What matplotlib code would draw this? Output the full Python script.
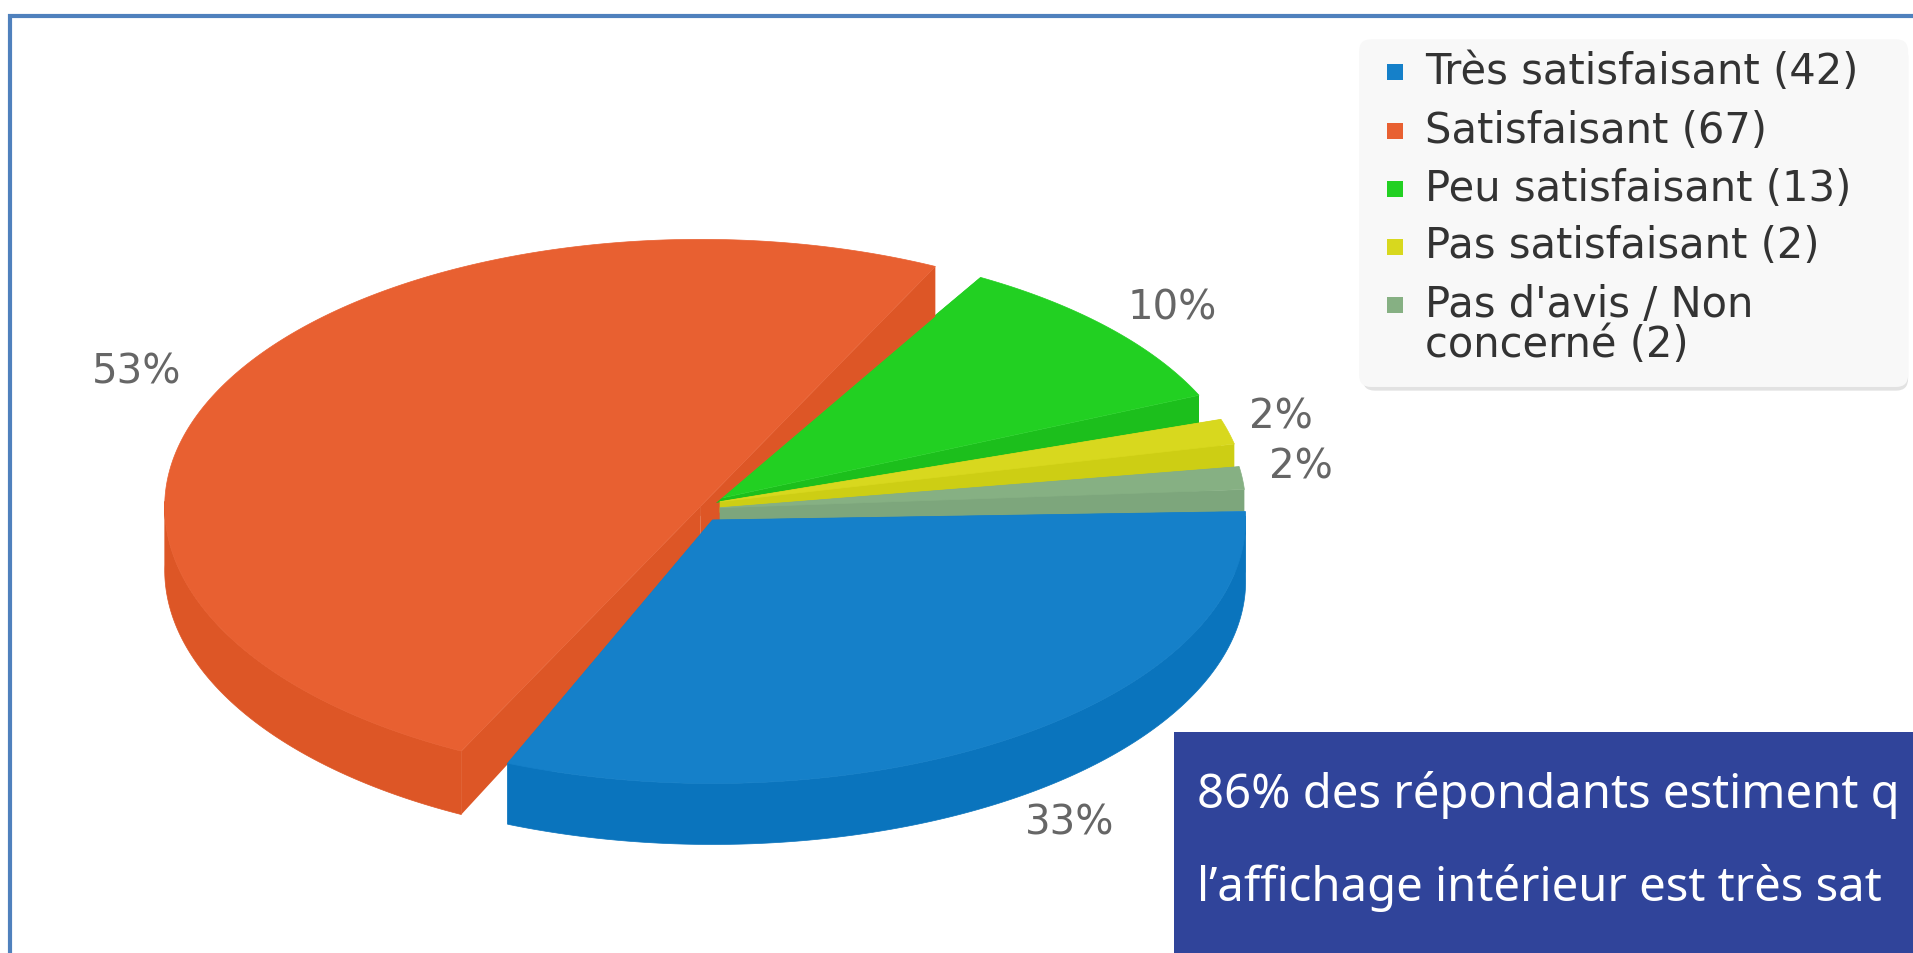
import numpy as np
import matplotlib
matplotlib.use("Agg")
import matplotlib.pyplot as plt
from matplotlib.patches import Polygon, Rectangle, FancyBboxPatch

categories = ["Très satisfaisant", "Satisfaisant", "Peu satisfaisant", "Pas satisfaisant", "Pas d'avis / Non\nconcerné"]
values = [42, 67, 13, 2, 2]
callout_lines = ["86% des répondants estiment q", "l’affichage intérieur est très sat"]

top_colors = ["#1580C9", "#E86031", "#22D022", "#D8D81E", "#86B083"]
side_colors = ["#0A74BD", "#DD5626", "#1CBF1C", "#CDCE14", "#7DA67C"]

S = 1913 / 1568  # layout below is measured on the 1568 px wide view
W, H = 1913, 954
fig = plt.figure(figsize=(W / 100, H / 100), dpi=100, facecolor="white")
ax = fig.add_axes([0, 0, 1, 1])
ax.set_xlim(0, W)
ax.set_ylim(H, 0)
ax.axis("off")

# Frame of the slide
ax.add_patch(Rectangle((10, 17), W + 50, H + 50, fc="white", ec="#4F81BD", lw=3, zorder=0))

# Pie: angles come from the values, then go through the chart's 3D projection
total = sum(values)
true_edges = np.cumsum([0] + values) / total * 360.0
proj_in = [0, 120, 311.4, 348.6, 354.3, 360]
proj_out = [-1.8, 114, 298, 340, 350, 358.2]
# slices pulled apart on screen: trim of each slice's start and end, in degrees
trim = [(0, -1.4), (2.5, -2), (2, -3.9), (2, -2.5), (1, -2.2)]


def project(a):
    return np.interp(a, proj_in, proj_out)


geom = [  # centre x, centre y, rx, ry back, ry front, depth
    (584, 427, 437, 220, 216, 50),
    (574, 416, 439, 219, 224, 52),
    (587, 410, 433, 210, 215, 25),
    (590, 412, 432, 218, 218, 24),
    (590, 417, 431, 215, 215, 18),
]
# depth of the cut faces: (rim, apex) for the start edge, then for the end edge
cut_depth = [((50, 50), (50, 50)), ((52, 40), (41, 8)), ((25, 3), (25, 3)), ((24, 9), (24, 9)), ((18, 14), (18, 14))]


def rim(g, t):
    cx, cy, rx, ryb, ryf, _ = g
    t = np.radians(t)
    s = np.sin(t)
    return np.column_stack([cx + rx * np.cos(t), cy + np.where(s < 0, ryb, ryf) * s]) * S


def draw_slice(i, z):
    g = geom[i]
    a0 = project(true_edges[i]) + trim[i][0]
    a1 = project(true_edges[i + 1]) + trim[i][1]
    ts = np.linspace(a0, a1, 240)
    edge = rim(g, ts)
    apex = np.array([g[0], g[1]]) * S
    for p, (d_rim, d_apex) in zip((edge[0], edge[-1]), cut_depth[i]):
        ax.add_patch(Polygon([apex, p, p + [0, d_rim * S], apex + [0, d_apex * S]],
                             fc=side_colors[i], ec="none", zorder=z))
    # the outer wall shows only on the front half of the rim
    front = np.sin(np.radians(ts)) > -0.02
    if front.any():
        wall = edge[front]
        side = np.vstack([wall, (wall + [0, g[5] * S])[::-1]])
        ax.add_patch(Polygon(side, fc=side_colors[i], ec=side_colors[i], lw=0.5, zorder=z))
    ax.add_patch(Polygon(np.vstack([apex, edge]), fc=top_colors[i], ec=top_colors[i], lw=0.5, zorder=z + 0.5))


# Small inner face of the pulled-out slice, seen behind the apex of the others
ax.add_patch(Polygon(np.array([(574, 416), (592, 409), (592, 431), (574, 445)]) * S,
                     fc=side_colors[1], ec="none", zorder=1.5))

for z, i in enumerate([2, 3, 4, 1, 0]):
    draw_slice(i, z + 2)

# Percentage labels
label_pos = [(877, 675), (112, 305), (961, 253), (1050, 342), (1066, 383)]
for v, (x, y) in zip(values, label_pos):
    ax.text(x * S, y * S, f"{round(v / total * 100)}%", ha="center", va="center",
            fontsize=29, color="#666666", family="DejaVu Sans", zorder=10)

# Legend
ax.add_patch(FancyBboxPatch((1117 * S, 37 * S), 447 * S, 284 * S, boxstyle="round,pad=0,rounding_size=12",
                            fc="#E2E2E2", ec="none", zorder=11))
ax.add_patch(FancyBboxPatch((1114 * S, 33 * S), 450 * S, 285 * S, boxstyle="round,pad=0,rounding_size=12",
                            fc="#F8F8F8", ec="none", zorder=12))
legend_y = [59, 107, 155, 202, 250]
for name, v, c, y in zip(categories, values, top_colors, legend_y):
    ax.add_patch(Rectangle((1137 * S, (y + 1 - 6.5) * S), 13 * S, 13 * S, fc=c, ec="none", zorder=13))
    parts = name.split("\n")
    parts[-1] += f" ({v})"
    for k, line in enumerate(parts):
        ax.text(1168 * S, (y + k * 33) * S, line, ha="left", va="center", fontsize=30,
                color="#333333", family="DejaVu Sans", zorder=13)

# Call-out box
ax.add_patch(Rectangle((962 * S, 601 * S), (1568 - 962) * S + 5, (782 - 601) * S + 5, fc="#30449A", ec="none", zorder=20))
for line, y in zip(callout_lines, [652, 728]):
    ax.text(981 * S, y * S, line, ha="left", va="center", fontsize=34, color="white",
            family="Noto Sans", zorder=21)

fig.savefig("out.png", dpi=100, facecolor="white")
